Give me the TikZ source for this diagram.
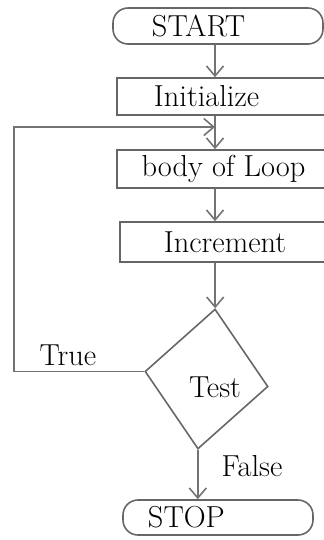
\documentclass[tikz,border=0pt]{standalone}
\usepackage{amsmath}
\usepackage{tikz}
\usetikzlibrary{shapes.geometric,arrows.meta}

\begin{document}
\begin{tikzpicture}[scale=0.2]
				\tikzstyle{every node}+=[inner sep=0pt, font=\LARGE]
				\tikzstyle{step box}=[draw=black!60, line width=0.9pt, rectangle]
				\tikzstyle{pill}=[step box, rounded corners=0.3cm]
				\tikzstyle{decision}=[draw=black!60, line width=0.9pt, diamond, minimum width=2.48cm, minimum height=2.82cm]
				\tikzstyle{flow}=[draw=black!55, line width=0.9pt, -{Straight Barb[length=2mm,width=3.4mm]}]
				\useasboundingbox (0,0) rectangle (32.4,-54);
				\node [pill, minimum width=4.2cm, minimum height=0.72cm, inner xsep=0.78cm, text width=2.64cm, align=left] (start) at (21.8,-2.6) {START};
				\node [step box, minimum width=4.26cm, minimum height=0.74cm, inner xsep=0.74cm, text width=2.78cm, align=left] (init) at (22.35,-9.65) {Initialize};
				\node [step box, minimum width=4.26cm, minimum height=0.76cm] (body) at (22.35,-16.9) {body of Loop};
				\node [step box, minimum width=4.2cm, minimum height=0.8cm] (inc) at (22.5,-24.2) {Increment};
				\node [decision, rotate=-7] (test) at (20.65,-37.9) {};
				\node (testlbl) at (21.5,-38.7) {Test};
				\node [pill, minimum width=3.8cm, minimum height=0.7cm, inner xsep=0.5cm, text width=2.8cm, align=left] (stop) at (21.8,-51.75) {STOP};
				\coordinate (join) at (21.5,-12.7);
				\coordinate (back) at (1.4,-12.7);
				\draw [flow] (start.south -| join) -- (init.north -| join);
				\draw [flow] (init.south -| join) -- (body.north -| join);
				\draw [flow] (body.south -| join) -- (inc.north -| join);
				\draw [flow] (inc.south -| test.north) -- (test.north);
				\draw [flow] (test.west) -| (back) -- (join);
				\draw (6.8,-35.5) node (truelbl) {True};
				\draw [flow] (test.south) -- (test.south |- stop.north);
				\draw (25.2,-46.6) node (falselbl) {False};
			\end{tikzpicture}
\end{document}
